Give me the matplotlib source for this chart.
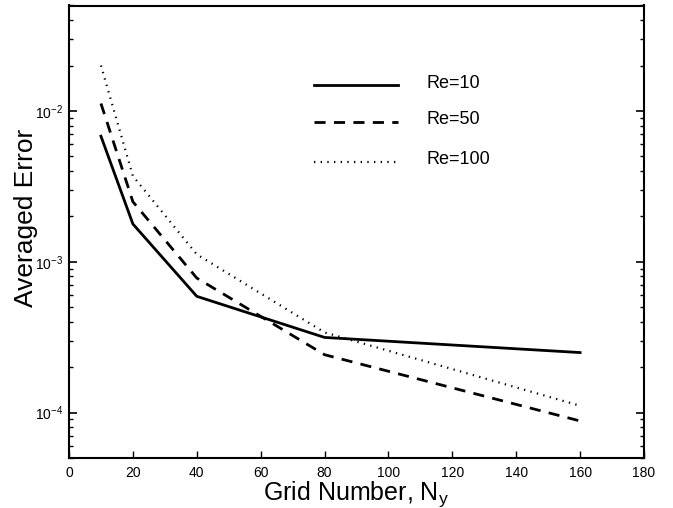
import matplotlib.pyplot as plt
import numpy as np
from matplotlib.ticker import LogLocator, NullFormatter, FixedLocator

plt.rcParams['font.family'] = ['Liberation Sans', 'DejaVu Sans']

# Grid number and averaged error for each Reynolds number.
grid = [10, 20, 40, 80, 160]
err_re10 = [6.8e-3, 1.78e-3, 5.9e-4, 3.15e-4, 2.5e-4]
err_re50 = [1.12e-2, 2.5e-3, 7.8e-4, 2.42e-4, 8.8e-5]
err_re100 = [2.0e-2, 3.7e-3, 1.12e-3, 3.4e-4, 1.11e-4]

labels = ["Re=10", "Re=50", "Re=100"]
xticks = [0, 20, 40, 60, 80, 100, 120, 140, 160, 180]

fig = plt.figure(figsize=(6.73, 5.08), dpi=100)
ax = fig.add_axes([69 / 673, 1 - 458 / 508, 575 / 673, 452.5 / 508])

ax.plot(grid, err_re10, color='black', lw=2.0, ls='-')
ax.plot(grid, err_re50, color='black', lw=2.0, ls=(0, (4, 3)))
ax.plot(grid, err_re100, color='black', lw=1.6, ls=(0, (0.6, 2.4)))

ax.set_yscale('log')
ax.set_xlim(0, 180)
ax.set_ylim(5e-5, 5e-2)
ax.xaxis.set_major_locator(FixedLocator(xticks))
ax.set_xticklabels([str(t) for t in xticks])
ax.yaxis.set_major_locator(LogLocator(base=10, numticks=10))
ax.yaxis.set_minor_locator(LogLocator(base=10, subs=np.arange(2, 10), numticks=20))
ax.yaxis.set_minor_formatter(NullFormatter())

ax.tick_params(axis='both', which='both', direction='in', labelsize=10)
ax.tick_params(axis='y', which='both', right=True, pad=4)
ax.tick_params(axis='y', which='major', length=6, width=1.2)
ax.tick_params(axis='y', which='minor', length=3, width=1.0)
ax.tick_params(axis='x', which='major', length=5, width=1.0, pad=6)
for s in ax.spines.values():
    s.set_linewidth(1.5)

ax.set_xlabel("Grid Number, N$_\\mathregular{y}$", fontsize=18, labelpad=-1)
ax.set_ylabel("Averaged Error", fontsize=19, va='center')
ax.yaxis.set_label_coords(-0.075, 0.53)

# Legend drawn by hand, without frame
styles = [('-', 2.0), ((0, (4, 3)), 2.0), ((0, (0.6, 2.4)), 1.6)]
rows = [85, 122, 162]
for (ls, lw), lab, yy in zip(styles, labels, rows):
    yf = 1 - yy / 508
    fig.add_artist(plt.Line2D([314 / 673, 398 / 673], [yf, yf], color='black', ls=ls, lw=lw))
    fig.text(426 / 673, yf + 2 / 508, lab, fontsize=13, va='center', ha='left')

fig.savefig('out.png', dpi=100)
